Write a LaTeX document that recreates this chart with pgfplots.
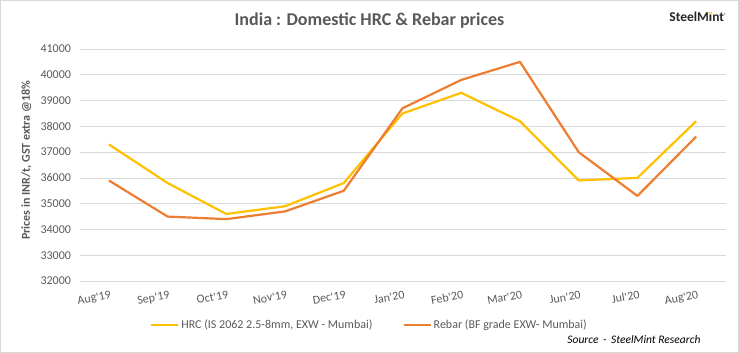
\documentclass[border=0pt]{standalone}
\usepackage{pgfplots}
\pgfplotsset{compat=1.18}
\usepackage{fontspec}
\setmainfont{Carlito}
\definecolor{hrc}{HTML}{FFC000}
\definecolor{rebar}{HTML}{ED7D31}
\definecolor{txt}{HTML}{595959}
\definecolor{gridc}{HTML}{D9D9D9}
\begin{document}
\begin{tikzpicture}
\path[use as bounding box] (0bp,0bp) rectangle (739bp,353bp);
\draw[gridc, line width=1bp] (0.5bp,0.5bp) rectangle (738.5bp,352.5bp);
\node[font=\bfseries\fontsize{18bp}{21bp}\selectfont, text=txt] at (369.5bp,332bp) {India : Domestic HRC \& Rebar prices};
\node[font=\bfseries\fontsize{13.5bp}{16bp}\selectfont, text=black!85, anchor=center] at (698bp,336bp) {SteelM\rlap{\color{hrc}ï}ınt\textsuperscript{\fontsize{4bp}{5bp}\selectfont ®}};
\node[font=\itshape\fontsize{11.5bp}{14bp}\selectfont, anchor=east] at (704bp,13bp) {Source \,-\, SteelMint Research};
\begin{axis}[
  at={(79.5bp,72bp)}, anchor=south west, scale only axis,
  width=646bp, height=232bp,
  xmin=-0.5, xmax=10.5, ymin=32000, ymax=41000,
  xtick={0,...,10},
  xticklabels={Aug\textquotesingle19,Sep\textquotesingle19,Oct\textquotesingle19,Nov\textquotesingle19,Dec\textquotesingle19,Jan\textquotesingle20,Feb\textquotesingle20,Mar\textquotesingle20,Jun\textquotesingle20,Jul\textquotesingle20,Aug\textquotesingle20},
  ytick={32000,33000,...,41000},
  scaled ticks=false,
  ymajorgrids, grid style={gridc, line width=0.75bp},
  axis line style={draw=none},
  major tick length=0pt,
  tick label style={font=\fontsize{12bp}{14bp}\selectfont, text=txt},
  /pgf/number format/assume math mode=true,
  /pgf/number format/set thousands separator={},
  xticklabel style={rotate=10, anchor=north east, yshift=-6bp, xshift=3bp},
  yticklabel style={xshift=-5bp},
  ylabel={Prices in INR/t, GST extra @18\%},
  ylabel style={at={(axis description cs:-0.082,0.52)}, anchor=center, font=\bfseries\fontsize{12bp}{14bp}\selectfont, text=txt},
  legend style={at={(axis description cs:0.109,-0.19)}, anchor=west, draw=none, fill=none, font=\fontsize{12bp}{14bp}\selectfont, text=txt, inner sep=0pt, /tikz/every even column/.append style={column sep=28bp}},
  legend columns=2,
  legend cell align=left,
  legend image code/.code={\draw[#1, line width=2.2bp] (0bp,0bp) -- (27bp,0bp);},
  line join=round,
]
\addplot[hrc, line width=2.2bp] coordinates {(0,37300)(1,35800)(2,34600)(3,34900)(4,35800)(5,38500)(6,39300)(7,38200)(8,35900)(9,36000)(10,38200)};
\addlegendentry{HRC (IS 2062 2.5-8mm, EXW - Mumbai)}
\addplot[rebar, line width=2.2bp] coordinates {(0,35900)(1,34500)(2,34400)(3,34700)(4,35500)(5,38700)(6,39800)(7,40500)(8,37000)(9,35300)(10,37600)};
\addlegendentry{Rebar (BF grade EXW- Mumbai)}
\end{axis}
\end{tikzpicture}
\end{document}
